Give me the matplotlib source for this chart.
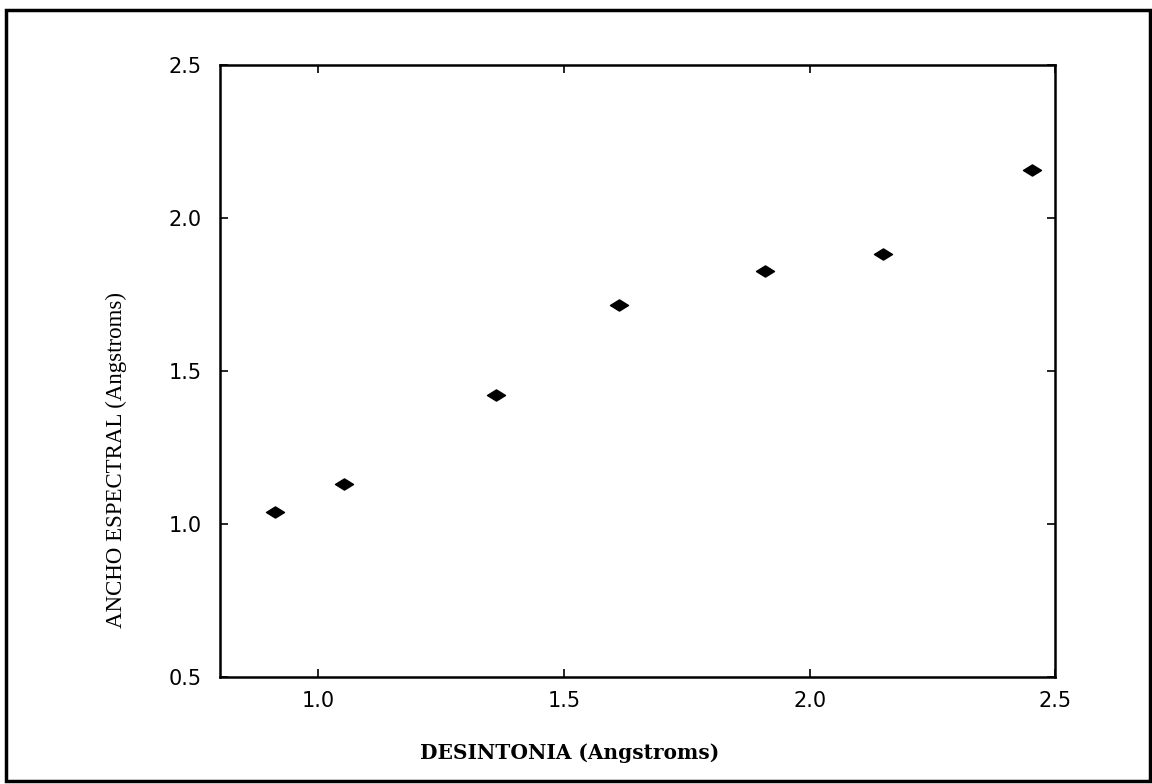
import numpy as np
import matplotlib
matplotlib.use("Agg")
import matplotlib.pyplot as plt
from matplotlib.path import Path
from matplotlib.patches import Rectangle

#data
desintonia = [0.912, 1.053, 1.361, 1.612, 1.910, 2.149, 2.453]
anchoEspectral = [1.039, 1.131, 1.422, 1.716, 1.827, 1.882, 2.157]

xTicks = [1.0, 1.5, 2.0, 2.5]
yTicks = [0.5, 1.0, 1.5, 2.0, 2.5]

#flattened diamond marker, like the old plotter output
flatDiamond = Path([(-1, 0), (0, 0.62), (1, 0), (0, -0.62), (-1, 0)],
                   [Path.MOVETO, Path.LINETO, Path.LINETO, Path.LINETO, Path.CLOSEPOLY])

fig = plt.figure(figsize=(11.52, 7.84), dpi=100)
ax = fig.add_axes([0.191, 0.1365, 0.725, 0.7806])

ax.plot(desintonia, anchoEspectral, linestyle="none", marker=flatDiamond,
        markersize=13, color="black")

ax.set_xlim(0.8, 2.5)
ax.set_ylim(0.5, 2.5)
ax.set_xticks(xTicks)
ax.set_yticks(yTicks)
ax.set_xticklabels(["%.1f" % v for v in xTicks])
ax.set_yticklabels(["%.1f" % v for v in yTicks])
ax.tick_params(direction="in", length=6, width=1.2, top=True, right=True,
               labelsize=15)
ax.tick_params(axis="x", pad=10)
ax.tick_params(axis="y", pad=13)
for lab in ax.get_xticklabels() + ax.get_yticklabels():
    lab.set_fontfamily("DejaVu Sans")
for sp in ax.spines.values():
    sp.set_linewidth(1.8)

ax.set_xlabel("DESINTONIA (Angstroms)", fontsize=14.5, fontweight="bold",
              family="DejaVu Serif")
ax.set_ylabel("ANCHO ESPECTRAL (Angstroms)", fontsize=16.5,
              family="Liberation Serif")
#labels sit off-centre in the original
ax.xaxis.set_label_coords(0.419, -0.108)
ax.yaxis.set_label_coords(-0.111, 0.355)

#outer frame round the whole figure
fig.patches.append(Rectangle((0.005, 0.004), 0.993, 0.983, transform=fig.transFigure,
                             fill=False, linewidth=2.5, edgecolor="black"))

fig.savefig("out.png", dpi=100)
